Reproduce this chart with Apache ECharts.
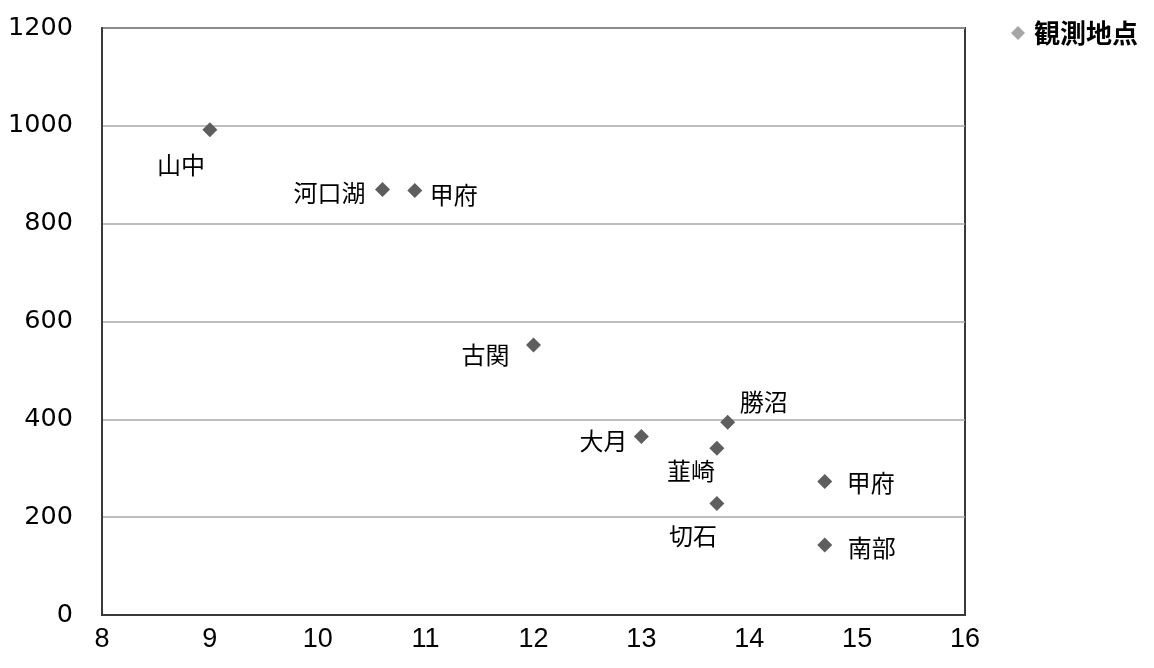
<!DOCTYPE html>
<html>
<head>
<meta charset="utf-8">
<script src="https://cdn.jsdelivr.net/npm/echarts@6/dist/echarts.min.js"></script>
<style>
  html, body { margin: 0; padding: 0; background: #fff; }
  #chart { width: 1154px; height: 668px; }
</style>
</head>
<body>
<div id="chart"></div>
<script>
// 観測地点: 年平均気温 (°C) と標高 (m)
const stations   = ['山中', '河口湖', '甲府', '古関', '大月', '勝沼', '韮崎', '切石', '甲府', '南部'];
const meanTemp   = [9.0, 10.6, 10.9, 12.0, 13.0, 13.8, 13.7, 13.7, 14.7, 14.7];
const elevation  = [992, 870, 868, 552, 365, 394, 341, 228, 273, 143];

const xTicks = { min: 8, max: 16, interval: 1 };
const yTicks = { min: 0, max: 1200, interval: 200 };

// label offsets (px) from each marker's centre
const labelOffsets = [[-29, 35], [-53, 3], [39, 4], [-48, 10], [-38, 4], [36, -20], [-26, 23], [-24, 32], [46, 1], [47, 3]];

const points = stations.map((name, i) => ({
  name: name,
  value: [meanTemp[i], elevation[i]],
  label: { offset: labelOffsets[i] }
}));

const chart = echarts.init(document.getElementById('chart'), null, { renderer: 'canvas' });
chart.setOption({
  backgroundColor: '#ffffff',
  animation: false,
  grid: {
    left: 102, right: 189, top: 28, bottom: 53,
    show: true, borderColor: '#3a3a3a', borderWidth: 2, backgroundColor: 'transparent'
  },
  legend: {
    data: [{ name: '観測地点', itemStyle: { color: '#a6a6a6' } }],
    left: 1006, top: 15,
    icon: 'diamond', itemWidth: 14, itemHeight: 14, itemGap: 10,
    textStyle: { fontFamily: 'Noto Sans CJK JP', fontSize: 26, fontWeight: 'bold', color: '#000', padding: [0, 0, 0, 4] }
  },
  xAxis: {
    type: 'value',
    min: xTicks.min, max: xTicks.max, interval: xTicks.interval,
    axisLine: { show: true, lineStyle: { color: '#3a3a3a', width: 2 } },
    axisTick: { show: false },
    splitLine: { show: false },
    axisLabel: { margin: 11, fontSize: 27, color: '#000', fontFamily: 'Liberation Sans Narrow, Liberation Sans' }
  },
  yAxis: {
    type: 'value',
    min: yTicks.min, max: yTicks.max, interval: yTicks.interval,
    axisLine: { show: true, lineStyle: { color: '#3a3a3a', width: 2 } },
    axisTick: { show: false },
    splitLine: { show: true, lineStyle: { color: '#a8a8a8', width: 1.5 } },
    axisLabel: { margin: 29, fontSize: 25.5, color: '#000', fontFamily: 'DejaVu Sans', formatter: v => String(v) }
  },
  series: [{
    name: '観測地点',
    type: 'scatter',
    symbol: 'diamond',
    symbolSize: 15,
    itemStyle: { color: '#5e5e5e', opacity: 1 },
    label: {
      show: true,
      position: 'inside',
      formatter: p => p.name,
      color: '#000',
      fontSize: 24,
      fontFamily: 'Noto Sans CJK JP'
    },
    data: points
  }]
});
</script>
</body>
</html>
